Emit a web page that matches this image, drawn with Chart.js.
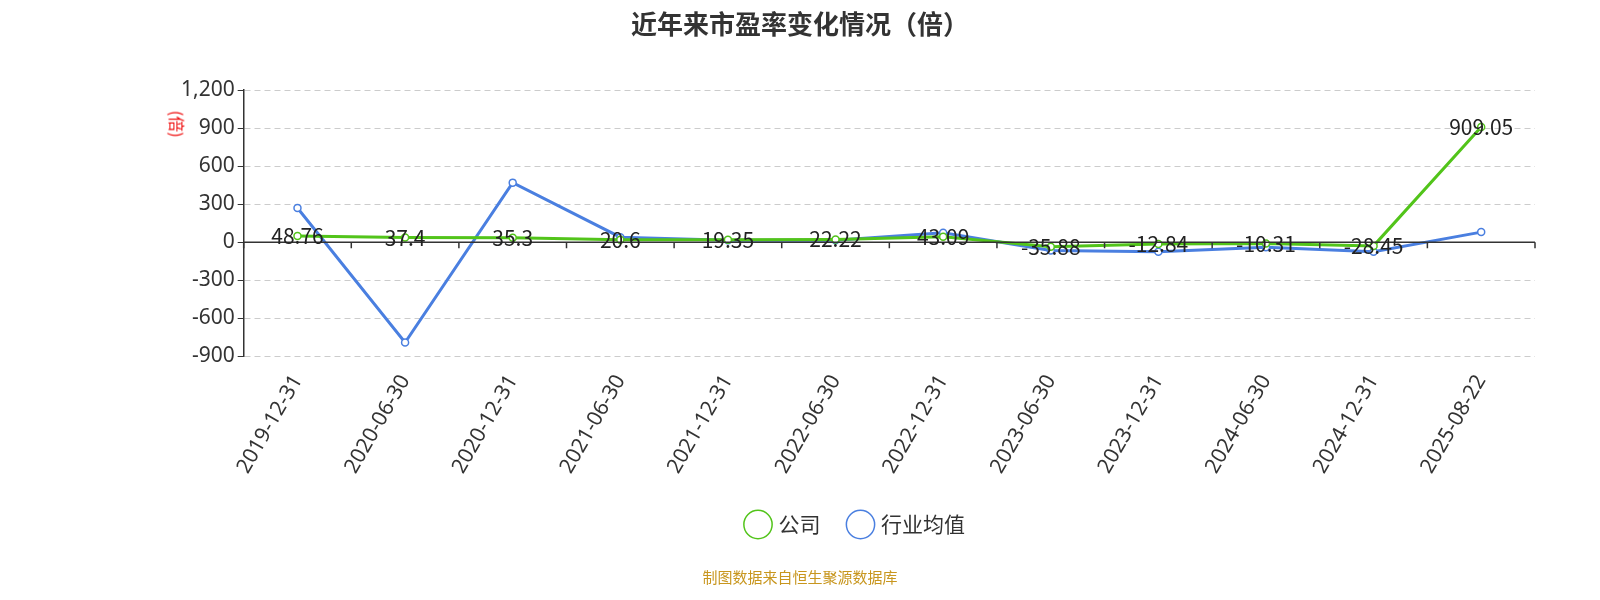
<!DOCTYPE html>
<html lang="zh">
  <head>
    <meta charset="UTF-8" />
    <title>近年来市盈率变化情况（倍）</title>
    <script src="https://cdn.jsdelivr.net/npm/chart.js"></script>
    <style>
      body { margin: 0; background: #fff; font-family: "Noto Sans CJK SC", "Noto Sans", sans-serif; }
      #wrap { position: relative; width: 1600px; height: 600px; }
      h1 { position: absolute; top: 4px; width: 100%; text-align: center; margin: 0; font-size: 26px; color: #333; font-weight: bold; }
      .unit { position: absolute; left: 164px; top: 112px; color: #e00; font-size: 16px; transform: rotate(90deg); }
      .src { position: absolute; top: 566px; width: 100%; text-align: center; color: #c8961e; font-size: 15px; }
    </style>
  </head>
  <body>
    <div id="wrap">
      <h1>近年来市盈率变化情况（倍）</h1>
      <div class="unit">(倍)</div>
      <canvas id="peChart" width="1600" height="600"></canvas>
      <div class="src">制图数据来自恒生聚源数据库</div>
    </div>
    <script>
      // 数据
      const dates = ["2019-12-31", "2020-06-30", "2020-12-31", "2021-06-30", "2021-12-31", "2022-06-30",
        "2022-12-31", "2023-06-30", "2023-12-31", "2024-06-30", "2024-12-31", "2025-08-22"];
      const company = [48.76, 37.4, 35.3, 20.6, 19.35, 22.22, 43.09, -35.88, -12.84, -10.31, -28.45, 909.05];
      const industry = [270, -790, 470, 40, 15, 15, 75, -65, -75, -40, -75, 80];
      const yTicks = [-900, -600, -300, 0, 300, 600, 900, 1200];

      // 零轴线和数值标签
      const extras = {
        id: "extras",
        afterDatasetsDraw(chart) {
          const { ctx, scales: { x, y } } = chart;
          const y0 = y.getPixelForValue(0);
          ctx.save();
          ctx.strokeStyle = "#333";
          ctx.lineWidth = 1.5;
          ctx.beginPath();
          ctx.moveTo(x.left, y0);
          ctx.lineTo(x.right, y0);
          for (let i = 0; i <= dates.length; i++) {
            const px = x.getPixelForValue(i - 0.5);
            ctx.moveTo(px, y0);
            ctx.lineTo(px, y0 + 6);
          }
          ctx.stroke();
          ctx.fillStyle = "#222";
          ctx.font = "21px 'Noto Sans CJK SC', sans-serif";
          ctx.textAlign = "center";
          ctx.textBaseline = "middle";
          const meta = chart.getDatasetMeta(0);
          meta.data.forEach((pt, i) => {
            ctx.fillText(String(company[i]), pt.x, pt.y);
          });
          ctx.restore();
        },
      };

      new Chart(document.getElementById("peChart"), {
        type: "line",
        data: {
          labels: dates,
          datasets: [
            {
              label: "公司",
              data: company,
              borderColor: "#52c41a",
              backgroundColor: "#fff",
              borderWidth: 3,
              pointRadius: 3.5,
              pointBorderWidth: 1.5,
              tension: 0,
            },
            {
              label: "行业均值",
              data: industry,
              borderColor: "#4a7fe0",
              backgroundColor: "#fff",
              borderWidth: 3,
              pointRadius: 3.5,
              pointBorderWidth: 1.5,
              tension: 0,
            },
          ],
        },
        options: {
          responsive: false,
          animation: false,
          layout: { padding: { left: 178, right: 65, top: 90, bottom: 55 } },
          plugins: {
            legend: {
              position: "bottom",
              labels: {
                usePointStyle: true,
                pointStyle: "circle",
                boxWidth: 20,
                boxHeight: 20,
                font: { size: 21, family: "'Noto Sans CJK SC', sans-serif" },
                color: "#333",
                padding: 30,
              },
            },
            tooltip: { enabled: false },
          },
          scales: {
            x: {
              offset: true,
              grid: { display: false },
              border: { display: false },
              ticks: {
                maxRotation: 60,
                minRotation: 60,
                color: "#333",
                font: { size: 21, family: "'Noto Sans', sans-serif" },
                padding: 6,
              },
            },
            y: {
              min: -900,
              max: 1200,
              afterBuildTicks(scale) {
                scale.ticks = yTicks.map((v) => ({ value: v }));
              },
              grid: { color: "#ccc", lineWidth: 1, tickLength: 6, tickColor: "#333" },
              border: { display: true, color: "#333", width: 1.5, dash: [6, 4] },
              ticks: {
                color: "#333",
                font: { size: 21, family: "'Noto Sans', sans-serif" },
                callback: (v) => v.toLocaleString("en-US"),
              },
            },
          },
        },
        plugins: [extras],
      });
    </script>
  </body>
</html>
